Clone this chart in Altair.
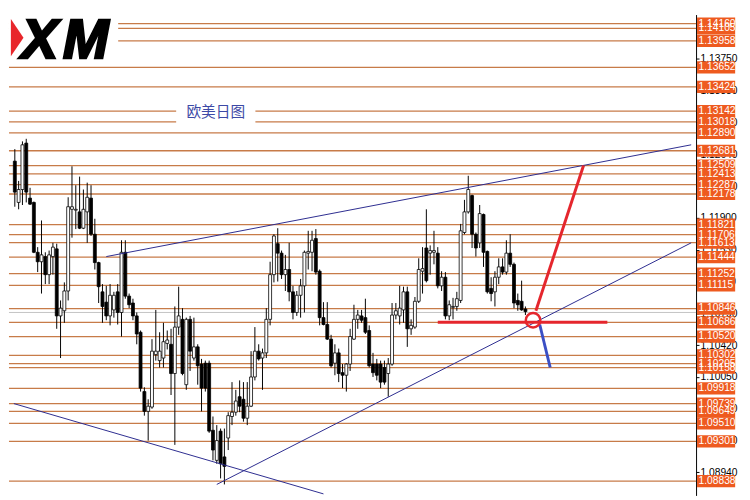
import altair as alt
import pandas as pd

# ---------------- data ----------------
opens = [
    1.1256, 1.1208, 1.1223, 1.1277, 1.1213, 1.1208, 1.1150, 1.1139, 1.1145, 1.1124,
    1.1145, 1.1154, 1.1076, 1.1082, 1.1105, 1.1200, 1.1199, 1.1197, 1.1178, 1.1197,
    1.1213, 1.1171, 1.1138, 1.1104, 1.1092, 1.1076, 1.1083, 1.1104, 1.1080, 1.1150,
    1.1099, 1.1091, 1.1076, 1.1057, 1.0988, 1.0965, 1.0970, 1.1031, 1.1024, 1.1027,
    1.1044, 1.1043, 1.1009, 1.1063, 1.1072, 1.0996, 1.1072, 1.1027, 1.1040, 1.1020,
    1.1021, 1.1021, 1.0943, 1.0908, 1.0942, 1.0912, 1.0934, 1.0959, 1.0964, 1.0982,
    1.0979, 1.0957, 1.0971, 1.1005, 1.1035, 1.1027, 1.1033, 1.1072, 1.1124, 1.1160,
    1.1149, 1.1124, 1.1130, 1.1104, 1.1080, 1.1100, 1.1111, 1.1149, 1.1150, 1.1166,
    1.1128, 1.1074, 1.1066, 1.1049, 1.1021, 1.1033, 1.1010, 1.1007, 1.1020, 1.1049,
    1.1072, 1.1076, 1.1074, 1.1059, 1.1020, 1.1020, 1.1020, 1.1016, 1.1009, 1.1020,
    1.1077, 1.1076, 1.1083, 1.1104, 1.1061, 1.1063, 1.1093, 1.1128, 1.1155, 1.1149,
    1.1150, 1.1149, 1.1111, 1.1121, 1.1076, 1.1086, 1.1087, 1.1094, 1.1173, 1.1197,
    1.1216, 1.1171, 1.1161, 1.1194, 1.1151, 1.1108, 1.1104, 1.1121, 1.1133, 1.1127,
    1.1149, 1.1136, 1.1094, 1.1093, 1.1084,
]
highs = [
    1.1270, 1.1233, 1.1279, 1.1282, 1.1225, 1.1209, 1.1156, 1.1187, 1.1150, 1.1152,
    1.1161, 1.1160, 1.1094, 1.1115, 1.1214, 1.1250, 1.1228, 1.1238, 1.1223, 1.1231,
    1.1228, 1.1189, 1.1139, 1.1113, 1.1111, 1.1113, 1.1104, 1.1113, 1.1164, 1.1164,
    1.1102, 1.1096, 1.1080, 1.1059, 1.0993, 1.0979, 1.1049, 1.1083, 1.1057, 1.1068,
    1.1059, 1.1061, 1.1087, 1.1110, 1.1085, 1.1074, 1.1076, 1.1074, 1.1043, 1.1026,
    1.1024, 1.1024, 1.0959, 1.0949, 1.0945, 1.0945, 1.0964, 1.0999, 1.0990, 1.1001,
    1.0999, 1.0999, 1.1035, 1.1063, 1.1043, 1.1038, 1.1085, 1.1139, 1.1171, 1.1178,
    1.1152, 1.1147, 1.1161, 1.1111, 1.1105, 1.1119, 1.1152, 1.1175, 1.1175, 1.1177,
    1.1130, 1.1092, 1.1092, 1.1054, 1.1043, 1.1038, 1.1020, 1.1021, 1.1061, 1.1089,
    1.1083, 1.1083, 1.1096, 1.1065, 1.1033, 1.1026, 1.1024, 1.1024, 1.1027, 1.1091,
    1.1091, 1.1111, 1.1110, 1.1110, 1.1072, 1.1098, 1.1143, 1.1156, 1.1200, 1.1158,
    1.1175, 1.1156, 1.1128, 1.1127, 1.1094, 1.1097, 1.1104, 1.1183, 1.1211, 1.1239,
    1.1217, 1.1173, 1.1205, 1.1195, 1.1152, 1.1121, 1.1128, 1.1143, 1.1143, 1.1164,
    1.1171, 1.1138, 1.1102, 1.1117, 1.1087,
]
lows = [
    1.1203, 1.1200, 1.1205, 1.1208, 1.1205, 1.1149, 1.1127, 1.1102, 1.1113, 1.1113,
    1.1124, 1.1061, 1.1027, 1.1068, 1.1094, 1.1167, 1.1177, 1.1177, 1.1177, 1.1161,
    1.1169, 1.1130, 1.1091, 1.1068, 1.1071, 1.1065, 1.1074, 1.1066, 1.1052, 1.1096,
    1.1085, 1.1071, 1.1043, 1.0988, 1.0960, 1.0931, 1.0968, 1.1024, 1.1016, 1.1016,
    1.1037, 1.0984, 1.0926, 1.1054, 1.1007, 1.0990, 1.1012, 1.1024, 1.0996, 1.0965,
    1.0988, 1.0940, 1.0908, 1.0904, 1.0887, 1.0880, 1.0920, 1.0949, 1.0960, 1.0964,
    1.0953, 1.0949, 1.0970, 1.1001, 1.1024, 1.0990, 1.1027, 1.1065, 1.1115, 1.1116,
    1.1119, 1.1105, 1.1093, 1.1072, 1.1076, 1.1074, 1.1080, 1.1130, 1.1128, 1.1124,
    1.1065, 1.1065, 1.1048, 1.1016, 1.1007, 1.0999, 1.0992, 1.0988, 1.1012, 1.1048,
    1.1061, 1.1068, 1.1055, 1.1016, 1.1005, 1.1001, 1.0992, 1.0996, 1.0982, 1.1018,
    1.1072, 1.1066, 1.1068, 1.1040, 1.1054, 1.1061, 1.1091, 1.1102, 1.1115, 1.1124,
    1.1136, 1.1108, 1.1105, 1.1072, 1.1071, 1.1072, 1.1082, 1.1091, 1.1171, 1.1195,
    1.1155, 1.1145, 1.1155, 1.1133, 1.1102, 1.1093, 1.1087, 1.1113, 1.1124, 1.1124,
    1.1133, 1.1085, 1.1082, 1.1082, 1.1077,
]
closes = [
    1.1220, 1.1223, 1.1275, 1.1220, 1.1206, 1.1150, 1.1139, 1.1147, 1.1124, 1.1147,
    1.1156, 1.1076, 1.1085, 1.1105, 1.1203, 1.1203, 1.1200, 1.1178, 1.1200, 1.1214,
    1.1171, 1.1138, 1.1110, 1.1087, 1.1076, 1.1100, 1.1100, 1.1080, 1.1150, 1.1099,
    1.1089, 1.1076, 1.1055, 1.0992, 1.0965, 1.0971, 1.1035, 1.1035, 1.1035, 1.1046,
    1.1048, 1.1009, 1.1063, 1.1076, 1.1009, 1.1072, 1.1035, 1.1040, 1.1018, 1.0992,
    1.0992, 1.0942, 1.0920, 1.0931, 1.0904, 1.0901, 1.0960, 1.0964, 1.0977, 1.0971,
    1.0957, 1.0971, 1.1005, 1.1035, 1.1026, 1.1033, 1.1072, 1.1124, 1.1169, 1.1149,
    1.1124, 1.1130, 1.1104, 1.1080, 1.1100, 1.1111, 1.1150, 1.1151, 1.1164, 1.1127,
    1.1074, 1.1066, 1.1049, 1.1018, 1.1033, 1.1009, 1.1007, 1.1020, 1.1052, 1.1072,
    1.1077, 1.1071, 1.1057, 1.1018, 1.1010, 1.1007, 1.0999, 1.0999, 1.1020, 1.1077,
    1.1082, 1.1085, 1.1104, 1.1061, 1.1065, 1.1093, 1.1130, 1.1131, 1.1117, 1.1152,
    1.1152, 1.1111, 1.1121, 1.1076, 1.1089, 1.1087, 1.1096, 1.1175, 1.1197, 1.1223,
    1.1171, 1.1155, 1.1195, 1.1150, 1.1104, 1.1102, 1.1121, 1.1133, 1.1127, 1.1149,
    1.1136, 1.1091, 1.1089, 1.1083, 1.1081,
]

levels = [1.14160, 1.14105, 1.13958, 1.13652, 1.13424, 1.13142, 1.13018, 1.12890,
          1.12681, 1.12509, 1.12413, 1.12287, 1.12178, 1.11821, 1.11706, 1.11613,
          1.11444, 1.11252, 1.11115, 1.10846, 1.10686, 1.10520, 1.10302, 1.10205,
          1.10158, 1.09918, 1.09739, 1.09649, 1.09510, 1.09301, 1.08838]
axis_ticks = [1.13750, 1.13380, 1.13010, 1.12640, 1.12270, 1.11900, 1.11530,
              1.11160, 1.10790, 1.10420, 1.10050, 1.09680, 1.09310, 1.08940]
current_price = 1.1080

# trend lines: (bar index, price) end points
upper_trend_i = [24, 177.5]
upper_trend_p = [1.1145, 1.1275]
lower_trend_i = [53, 177.5]
lower_trend_p = [1.0880, 1.1161]
down_trend_i = [-0.25, 81]
down_trend_p = [1.0974, 1.0869]
red_up_i = [136.75, 149.25]
red_up_p = [1.1082, 1.1251]
red_flat_i = [111, 155.5]
red_flat_p = [1.10686, 1.10686]
blue_down_i = [137.75, 140.5]
blue_down_p = [1.1066, 1.1016]
circle_i = [136]
circle_p = [1.1071]

title_text = "欧美日图"

# ---------------- layout ----------------
W, H = 703, 492
SX, SY = W / 711, H / 500
x_scale = alt.Scale(domain=[-0.25, 177.5], nice=False, zero=False)
y_scale = alt.Scale(domain=[1.08672, 1.14265], nice=False, zero=False)
y_axis = alt.Axis(orient="right", values=axis_ticks, format=".5f", title=None,
                  grid=False, domainColor="black", tickColor="black",
                  labelColor="black", labelFont="Liberation Sans", labelFontSize=10.5,
                  tickSize=3, labelPadding=1, labelOverlap=False, zindex=0)
X = lambda f: alt.X(f, scale=x_scale, axis=None)
Y = lambda f: alt.Y(f, scale=y_scale, axis=y_axis)

candles = pd.DataFrame({"i": list(range(len(opens))), "open": opens, "high": highs,
                        "low": lows, "close": closes})
candles["fill"] = ["white" if c >= o else "black" for o, c in zip(opens, closes)]

lv = pd.DataFrame({"level": levels, "label": [f"{v:.5f}" for v in levels]})
one = pd.DataFrame({"a": [0]})

level_lines = alt.Chart(lv).mark_rule(color="#c77b48", strokeWidth=1.3).encode(y=Y("level:Q"))
cur_line = alt.Chart(pd.DataFrame({"p": [current_price]})).mark_rule(
    color="#c4c4c4", strokeWidth=1).encode(y=Y("p:Q"))

def white_box(x0, x1, y0, y1):
    return alt.Chart(one).mark_rect(color="white").encode(
        x=alt.value(x0 * SX), x2=alt.value(x1 * SX),
        y=alt.value(y0 * SY), y2=alt.value(y1 * SY))

wicks = alt.Chart(candles).mark_rule(color="black", strokeWidth=1).encode(
    x=X("i:Q"), y=Y("low:Q"), y2="high:Q")
bodies = alt.Chart(candles).mark_bar(size=3, stroke="black", strokeWidth=0.8).encode(
    x=X("i:Q"), y=Y("open:Q"), y2="close:Q", fill=alt.Fill("fill:N", scale=None))

def seg(xs, ps, color, width):
    d = pd.DataFrame({"i": xs, "p": ps, "o": list(range(len(xs)))})
    return alt.Chart(d).mark_line(color=color, strokeWidth=width).encode(
        x=X("i:Q"), y=Y("p:Q"), order="o:Q")

navy = "#2a2a8e"
trend_up = seg(upper_trend_i, upper_trend_p, navy, 1)
trend_low = seg(lower_trend_i, lower_trend_p, navy, 1)
trend_down = seg(down_trend_i, down_trend_p, navy, 1)
red_up = seg(red_up_i, red_up_p, "#e5262d", 3)
red_flat = seg(red_flat_i, red_flat_p, "#e5262d", 3)
blue_down = seg(blue_down_i, blue_down_p, "#3b4fc4", 3)
circle = alt.Chart(pd.DataFrame({"i": circle_i, "p": circle_p})).mark_point(
    shape="circle", size=220, filled=False, color="#e5262d", strokeWidth=2.5, opacity=1
).encode(x=X("i:Q"), y=Y("p:Q"))

box_color = "#ee5a1f"
label_boxes = alt.Chart(lv).mark_rule(color=box_color, strokeWidth=12.5, strokeCap="butt").encode(
    y=Y("level:Q"), x=alt.value(W + 1), x2=alt.value(W + 40))
label_text = alt.Chart(lv).mark_text(align="left", baseline="middle", color="white",
                                     font="Liberation Sans", fontSize=10.5).encode(
    y=Y("level:Q"), x=alt.value(W + 2.5), text="label:N")

logo_tri = alt.Chart(one).mark_point(shape="M-0.34,-1L0.34,0L-0.34,1Z", size=1444,
                                     filled=True, color="#e8262b", opacity=1).encode(
    x=alt.value(8.5 * SX), y=alt.value(24 * SY))
logo_text = dict(font="Liberation Sans", fontSize=56, fontStyle="italic",
                 fontWeight="bold", color="black", stroke="black", strokeWidth=2.5,
                 align="left", baseline="alphabetic")
logo_x = alt.Chart(one).mark_text(text="X", **logo_text).encode(
    x=alt.value(13 * SX), y=alt.value(45 * SY))
logo_m = alt.Chart(one).mark_text(text="M", **logo_text).encode(
    x=alt.value(56 * SX), y=alt.value(45 * SY))
title = alt.Chart(one).mark_text(text=title_text, font="Noto Sans CJK SC", fontSize=15,
                                 color="#3d49a6", align="center", baseline="middle").encode(
    x=alt.value(214 * SX), y=alt.value(101 * SY))

chart = alt.layer(
    level_lines, cur_line,
    white_box(0, 113, 0, 48), white_box(173, 255, 91, 117),
    wicks, bodies,
    trend_up, trend_low, trend_down,
    red_flat, red_up, blue_down, circle,
    label_boxes, label_text,
    logo_tri, logo_x, logo_m, title,
).properties(width=W, height=H, padding=0, background="white").configure_view(strokeWidth=0)

chart.save("out.html", embed_options={"renderer": "svg", "actions": False})
